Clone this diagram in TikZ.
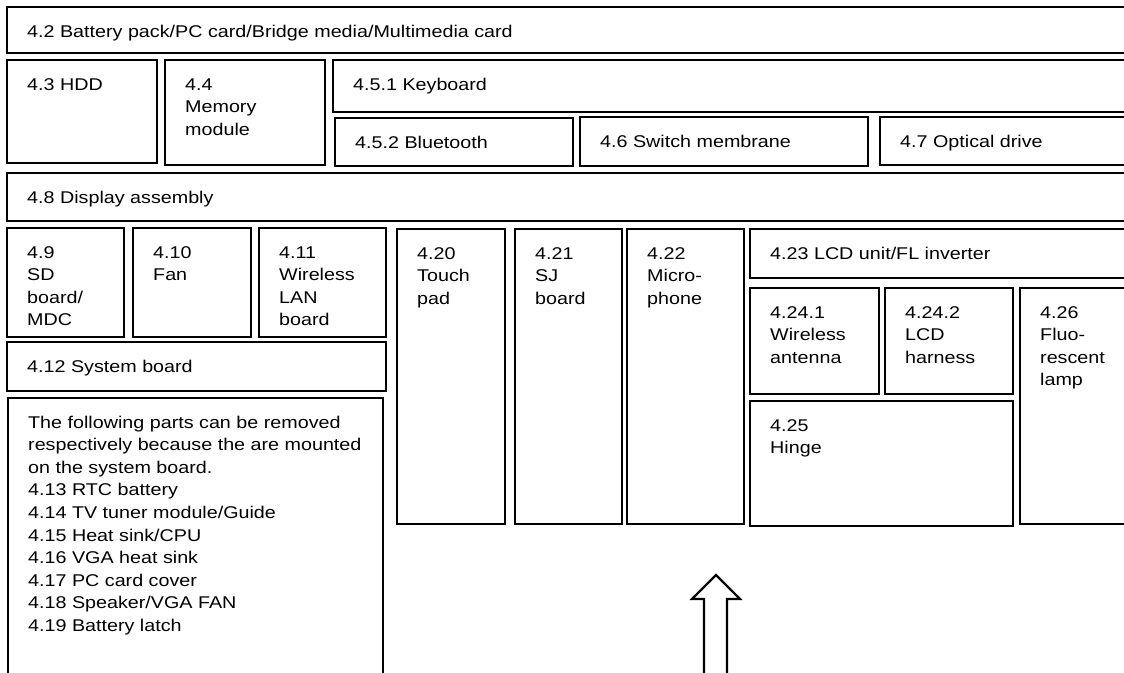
\documentclass[tikz,border=0pt]{standalone}
\usepackage{fontspec}
\setmainfont{Liberation Sans}[FakeStretch=1.16]
\tikzset{
  box/.style={draw, line width=2.7pt, inner sep=0pt, outer sep=0pt},
  lbl/.style={inner sep=0pt, anchor=base west, font=\fontsize{17}{22.6}\selectfont},
  arrowline/.style={draw, line width=2.4pt, line join=miter, fill=white}
}
\newcommand\tl[1]{\begin{tabular}[t]{@{}l@{}}#1\end{tabular}}
\newcommand\bx[6]{%
  \node[box, minimum width={(#4-#2)*1pt}, minimum height={(#5-#3)*1pt}] (#1) at ({(#2+#4)/2},{(#3+#5)/2}) {};
  \node[lbl] (#1t) at ([xshift=20pt,yshift=-30pt]#1.north west) {\tl{#6}};}
\begin{document}
\begin{tikzpicture}[x=1pt,y=-1pt]
\useasboundingbox (0,0) rectangle (1124,672);
\clip (0,0) rectangle (1124,672);
\fill[white] (0,0) rectangle (1124,672);
\bx{n42}{7}{7}{1140}{53}{4.2 Battery pack/PC card/Bridge media/Multimedia card}
\bx{n43}{7}{60}{157}{163}{4.3 HDD}
\bx{n44}{165}{60}{325}{165}{4.4\\Memory\\module}
\bx{n451}{333}{60}{1140}{112}{4.5.1 Keyboard}
\bx{n452}{335}{118}{573}{166}{4.5.2 Bluetooth}
\bx{n46}{580}{117}{868}{166}{4.6 Switch membrane}
\bx{n47}{880}{117}{1140}{165}{4.7 Optical drive}
\bx{n48}{7}{173}{1140}{221}{4.8 Display assembly}
\bx{n49}{7}{228}{124}{337}{4.9\\SD\\board/\\MDC}
\bx{n410}{133}{228}{251}{337}{4.10\\Fan}
\bx{n411}{259}{228}{386}{337}{4.11\\Wireless\\LAN\\board}
\bx{n412}{7}{342}{386}{391}{4.12 System board}
\bx{note}{8}{398}{383}{700}{The following parts can be removed\\respectively because the are mounted\\on the system board.\\4.13 RTC battery\\4.14 TV tuner module/Guide\\4.15 Heat sink/CPU\\4.16 VGA heat sink\\4.17 PC card cover\\4.18 Speaker/VGA FAN\\4.19 Battery latch}
\bx{n420}{397}{229}{505}{524}{4.20\\Touch\\pad}
\bx{n421}{515}{229}{622}{524}{4.21\\SJ\\board}
\bx{n422}{627}{229}{744}{524}{4.22\\Micro-\\phone}
\bx{n423}{750}{229}{1140}{278}{4.23 LCD unit/FL inverter}
\bx{n4241}{750}{288}{879}{394}{4.24.1\\Wireless\\antenna}
\bx{n4242}{885}{288}{1013}{394}{4.24.2\\LCD\\harness}
\bx{n426}{1020}{288}{1140}{524}{4.26\\Fluo-\\rescent\\lamp}
\bx{n425}{750}{401}{1013}{526}{4.25\\Hinge}
\coordinate (arrowtip) at (716,575);
\draw[arrowline] (704,690) -- (704,599) -- (692,599) -- (arrowtip) -- (740,599) -- (727,599) -- (727,690);
\end{tikzpicture}
\end{document}
